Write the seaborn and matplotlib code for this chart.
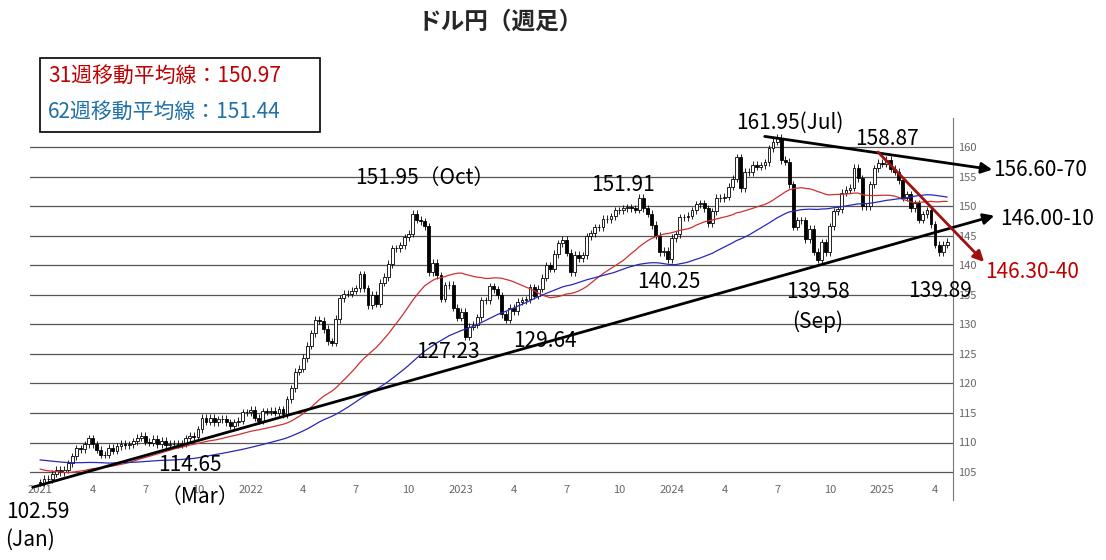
import numpy as np
import pandas as pd
import matplotlib
matplotlib.use("Agg")
import matplotlib.pyplot as plt
import seaborn as sns

sns.set_style("white")
plt.rcParams['font.family'] = ['Noto Sans CJK JP', 'DejaVu Sans']

# 週足終値（2019年11月〜2020年12月：移動平均の助走用）
history_close = [
    108.6, 108.5, 108.9, 109.3, 108.8, 108.7, 109.5, 108.6, 109.4, 109.4, 108.7,
    108.1, 109.5, 110.1, 109.3, 109.5, 109.8, 111.6, 108.1,
    105.4, 108.0, 110.9, 107.9, 108.5, 108.5, 107.5, 107.6, 107.0,
    106.9, 107.1, 107.6, 107.8, 109.6, 107.4, 106.9, 107.2, 107.5,
    107.5, 107.0, 106.1, 105.9, 105.9, 106.6, 105.8, 105.4,
    106.2, 106.1, 104.6, 105.6, 105.3, 105.6, 105.4, 104.7, 104.7,
    103.4, 104.6, 103.9, 104.1, 104.2, 104.0, 103.3, 103.3,
]

# 週足終値（2021年1月〜2025年5月）
weekly_close = [
    # 2021
    103.2, 103.9, 103.8, 104.7, 105.4, 105.0, 105.4, 106.5,
    107.7, 109.0, 108.9, 109.7, 110.7, 109.7, 108.8, 107.9, 107.9,
    109.1, 108.6, 109.4, 109.8, 109.5, 109.7, 110.2, 110.8, 111.1,
    110.1, 110.0, 110.6, 109.7, 110.3, 109.6, 109.8, 109.8,
    109.7, 109.9, 110.7, 111.1, 111.0, 112.2, 114.2, 113.5, 114.2,
    113.4, 113.9, 114.0, 113.4, 112.8, 113.4, 113.7, 115.1, 115.1,
    # 2022
    115.5, 114.2, 113.7, 115.3, 115.2, 115.4, 115.0, 115.6,
    114.8, 117.3, 119.2, 122.0, 122.5, 124.3, 126.4, 128.5, 130.8,
    130.6, 129.2, 127.1, 126.9, 130.9, 134.4, 135.2, 135.2, 135.7,
    136.1, 138.5, 136.1, 133.2, 135.0, 133.5, 137.0, 138.0,
    140.2, 142.9, 142.9, 143.4, 144.7, 145.3, 148.7, 147.7, 147.4,
    146.6, 138.8, 140.4, 138.3, 134.3, 136.6, 136.7, 132.8, 131.1,
    # 2023
    132.1, 127.9, 129.6, 129.9, 131.2, 134.1, 134.1, 136.4,
    135.9, 134.9, 131.7, 130.8, 132.8, 132.2, 133.8, 134.1, 134.2,
    136.3, 134.8, 136.0, 137.9, 140.0, 139.4, 141.9, 143.7, 144.3,
    142.1, 138.8, 141.8, 141.2, 141.7, 144.9, 145.4, 146.4,
    146.4, 147.9, 147.8, 148.3, 149.3, 149.3, 149.6, 149.8, 149.6,
    149.4, 151.4, 149.6, 148.7, 146.8, 145.0, 142.2, 142.4, 141.0,
    # 2024
    144.6, 145.2, 148.1, 148.1, 148.4, 149.3, 150.3, 150.5,
    149.6, 147.1, 149.1, 151.4, 151.3, 151.6, 153.3, 154.6, 158.3,
    153.0, 155.8, 155.7, 157.0, 156.7, 156.9, 157.4, 159.8, 160.9,
    161.6, 157.8, 157.5, 153.7, 146.5, 147.6, 147.6, 144.4,
    146.2, 142.3, 140.9, 143.9, 142.2, 146.6, 149.1, 149.5, 152.3,
    152.8, 153.1, 156.5, 154.7, 150.0, 150.0, 153.7, 156.4, 157.3,
    # 2025
    157.2, 157.8, 156.3, 155.8, 154.4, 151.4, 152.0, 149.6,
    150.5, 147.7, 148.6, 149.3, 146.9, 143.5, 142.2, 143.5, 144.0,
]

tick_weeks = [0, 13, 26, 39, 52, 65, 78, 91, 104, 117, 130, 143, 156, 169, 182, 195, 208, 221]
tick_labels = ["2021", "4", "7", "10", "2022", "4", "7", "10", "2023", "4", "7", "10",
               "2024", "4", "7", "10", "2025", "4"]
y_ticks = [105, 110, 115, 120, 125, 130, 135, 140, 145, 150, 155, 160]

all_close = pd.Series(history_close + weekly_close)
ma31 = all_close.rolling(31).mean().iloc[len(history_close):].to_numpy()
ma62 = all_close.rolling(62).mean().iloc[len(history_close):].to_numpy()
closes = np.array(weekly_close)
opens = all_close.shift(1).iloc[len(history_close):].to_numpy()
weeks = np.arange(len(closes))

W, H = 1106, 560
fig = plt.figure(figsize=(W / 100, H / 100), dpi=100)
ax = fig.add_axes([30 / W, 1 - 500 / H, (953 - 30) / W, (500 - 118) / H])

def wk(px):
    return (px - 40) / 4.05

def pr(py):
    return 160 - (py - 147) / 5.91

ax.set_xlim(wk(30), wk(953))
ax.set_ylim(pr(500), pr(118))

for v in y_ticks:
    ax.axhline(v, color="#555555", lw=0.9, zorder=0)

# ローソク足
up = closes >= opens
ax.bar(weeks[up], closes[up] - opens[up], bottom=opens[up], width=0.7,
       color="white", edgecolor="black", linewidth=0.6, zorder=3)
ax.bar(weeks[~up], opens[~up] - closes[~up], bottom=closes[~up], width=0.7,
       color="black", edgecolor="black", linewidth=0.6, zorder=3)
ax.vlines(weeks, np.minimum(opens, closes) - 0.6, np.maximum(opens, closes) + 0.6,
          color="black", lw=0.6, zorder=2)

sns.lineplot(x=weeks, y=ma31, ax=ax, color="#d03030", lw=0.9, zorder=4)
sns.lineplot(x=weeks, y=ma62, ax=ax, color="#2828b8", lw=0.9, zorder=4)

# トレンドライン
def arrow(x0, y0, x1, y1, color):
    ax.annotate("", xy=(wk(x1), pr(y1)), xytext=(wk(x0), pr(y0)), annotation_clip=False,
                arrowprops=dict(arrowstyle="-|>", color=color, lw=2, mutation_scale=16), zorder=6)

arrow(30, 488, 997, 215, "black")
arrow(762, 136, 995, 170, "black")
arrow(876, 150, 986, 264, "#a01010")

for s in ["top", "left", "bottom"]:
    ax.spines[s].set_visible(False)
ax.spines["right"].set_color("#777777")
ax.yaxis.tick_right()
ax.set_yticks(y_ticks)
ax.set_yticklabels([str(v) for v in y_ticks], fontsize=8, color="#666666")
ax.tick_params(axis="y", length=0, pad=4)
ax.set_xticks(tick_weeks)
ax.set_xticklabels(tick_labels, fontsize=8, color="#666666")
ax.tick_params(axis="x", direction="in", length=5, pad=-11, color="#666666")

def label(px, py, s, ha="center", color="black", size=15):
    fig.text(px / W, 1 - py / H, s, ha=ha, va="center", fontsize=size, color=color)

label(790, 123, "161.95(Jul)")
label(887, 139, "158.87")
label(993, 170, "156.60-70", ha="left")
label(425, 178, "151.95（Oct）")
label(623, 185, "151.91")
label(1000, 219, "146.00-10", ha="left")
label(985, 272, "146.30-40", ha="left", color="#c00000")
label(669, 282, "140.25")
label(818, 292, "139.58")
label(818, 322, "(Sep)")
label(940, 291, "139.89")
label(448, 352, "127.23")
label(545, 341, "129.64")
label(190, 465, "114.65")
label(200, 497, "（Mar）")
label(38, 512, "102.59")
label(30, 540, "(Jan)")

fig.text(500 / W, 1 - 22 / H, "ドル円（週足）", ha="center", va="center",
         fontsize=17, fontweight="bold")
fig.patches.append(plt.Rectangle((40 / W, 1 - 132 / H), 280 / W, 74 / H,
                                 transform=fig.transFigure, fill=False,
                                 edgecolor="black", lw=1.2))
label(48, 76, "31週移動平均線：150.97", ha="left", color="#c00000", size=15)
label(48, 112, "62週移動平均線：151.44", ha="left", color="#1f6fa8", size=15)

fig.savefig("out.png", dpi=100)
